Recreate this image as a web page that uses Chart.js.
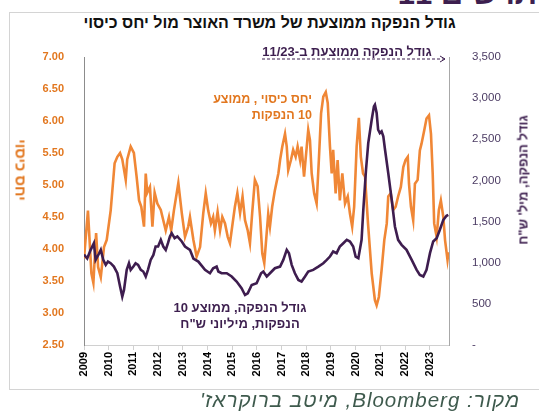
<!DOCTYPE html>
<html lang="he">
<head>
<meta charset="utf-8">
<script src="https://cdn.jsdelivr.net/npm/chart.js@4.4.0/dist/chart.umd.min.js"></script>
<style>
  body { margin: 0; width: 539px; height: 414px; overflow: hidden; background: #fff; position: relative;
         font-family: 'Liberation Sans', Arial, 'DejaVu Sans', sans-serif; }
  .abs { position: absolute; white-space: nowrap; }
  #frame { left: 9px; top: 12px; width: 540px; height: 376px; border: 1px solid #d4d4d4; }
  #header { right: 2px; top: -22px; font-size: 31px; line-height: 31px; font-weight: bold; color: #3d1f4f; direction: rtl; }
  #title { left: 0; width: 539px; top: 14px; text-align: center; font-size: 16px; font-weight: bold; color: #111; direction: rtl; }
  #source { right: 19px; top: 388px; font-size: 20.5px; letter-spacing: 1px; font-style: italic; color: #3e5a4d; direction: rtl; }
  #wrap { position: absolute; left: 0; top: 0; width: 539px; height: 414px; }
  .ytitle { font-weight: bold; direction: rtl; transform-origin: center center; }
  #ltitle { color: #e2771f; font-size: 15px; left: 21px; top: 170px; transform: translate(-50%, -50%) rotate(90deg); }
  #rtitle { color: #3d1f4f; font-size: 13px; left: 523px; top: 180px; transform: translate(-50%, -50%) rotate(-90deg); }
  .lab { font-weight: bold; direction: rtl; line-height: 16px; }
  #olab { color: #e2771f; font-size: 12.5px; right: 227px; top: 91px; text-align: right; }
  #plab { color: #3d1f4f; font-size: 13px; left: 150px; width: 180px; top: 300px; text-align: center; }
  #note { color: #3d1f4f; left: 262px; width: 170px; top: 44px; text-align: center; font-size: 13px; font-weight: bold; direction: rtl; }
</style>
</head>
<body>
<div id="frame" class="abs"></div>
<div id="header" class="abs">תרשים 11</div>
<div id="title" class="abs">גודל הנפקה ממוצעת של משרד האוצר מול יחס כיסוי</div>
<div id="wrap"><canvas id="chart"></canvas></div>
<div id="ltitle" class="abs ytitle">יחס כיסוי</div>
<div id="rtitle" class="abs ytitle">גודל הנפקה, מיל' ש"ח</div>
<div id="olab" class="abs lab">יחס כיסוי , ממוצע<br>10 הנפקות</div>
<div id="plab" class="abs lab">גודל הנפקה, ממוצע 10<br>הנפקות, מיליוני ש"ח</div>
<div id="note" class="abs">גודל הנפקה ממוצעת ב-11/23</div>
<div id="source" class="abs">מקור: Bloomberg, מיטב ברוקראז'</div>

<script>
// יחס כיסוי, ממוצע 10 הנפקות (ציר שמאלי)
var ratioDates = [2009.00,2009.16,2009.30,2009.38,2009.49,2009.57,2009.68,2009.81,2009.92,
  2010.08,2010.24,2010.35,2010.46,2010.55,2010.69,2010.75,2010.89,
  2011.02,2011.13,2011.23,2011.32,2011.43,2011.50,2011.56,2011.67,2011.77,2011.86,2011.97,
  2012.11,2012.21,2012.31,2012.44,2012.53,2012.64,2012.82,2012.96,
  2013.09,2013.22,2013.29,2013.43,2013.56,2013.70,2013.83,2013.93,
  2014.03,2014.14,2014.23,2014.30,2014.41,2014.51,2014.60,2014.71,2014.82,2014.91,
  2015.00,2015.11,2015.21,2015.32,2015.42,2015.52,2015.63,2015.72,2015.81,2015.92,
  2016.03,2016.13,2016.22,2016.30,2016.46,2016.53,2016.62,2016.73,2016.87,2016.94,
  2017.03,2017.14,2017.21,2017.27,2017.38,2017.47,2017.57,2017.65,2017.75,2017.81,2017.91,
  2018.02,2018.08,2018.15,2018.22,2018.32,2018.42,2018.51,2018.60,2018.69,2018.79,2018.87,2018.96,
  2019.03,2019.09,2019.19,2019.27,2019.36,2019.46,2019.57,2019.68,2019.77,2019.86,2019.94,
  2020.04,2020.13,2020.21,2020.30,2020.38,2020.50,2020.65,2020.78,2020.85,2020.94,
  2021.05,2021.16,2021.26,2021.32,2021.42,2021.52,2021.62,2021.72,2021.83,2021.93,
  2022.02,2022.11,2022.16,2022.24,2022.33,2022.40,2022.51,2022.60,2022.67,2022.78,2022.87,2022.97,
  2023.05,2023.12,2023.18,2023.28,2023.37,2023.45,2023.55,2023.62,2023.72,2023.76];
var ratioValues = [3.85,4.60,3.62,3.47,4.25,3.72,3.56,4.03,4.14,
  4.60,5.34,5.44,5.50,5.40,5.08,5.40,5.60,
  5.50,5.13,4.76,4.66,4.35,5.18,4.88,4.97,4.35,4.88,4.71,
  4.61,4.45,4.29,4.50,4.29,4.60,5.03,4.56,
  4.19,4.35,4.50,4.14,3.88,4.03,4.56,4.87,
  4.60,4.40,4.50,4.29,4.58,4.29,4.50,4.40,4.19,4.09,
  4.35,4.66,4.87,4.56,4.82,4.45,4.29,4.09,4.56,5.08,
  4.98,4.50,3.93,3.78,4.55,4.35,4.66,4.92,5.18,5.39,
  5.60,5.80,5.60,5.23,5.39,5.55,5.44,5.60,5.39,5.60,5.13,
  5.60,5.86,5.70,5.18,4.87,4.71,5.39,6.12,6.38,6.45,6.28,5.60,
  5.18,5.55,4.87,5.39,4.76,5.18,4.71,4.82,4.55,4.35,4.66,
  5.60,6.05,5.44,5.18,5.13,4.40,3.62,3.20,3.12,3.25,
  3.67,4.14,4.40,4.82,4.87,4.61,4.66,4.82,4.97,5.28,
  5.39,5.44,5.02,4.66,4.45,5.02,5.08,5.54,5.65,5.86,6.04,6.09,
  5.80,5.18,4.40,4.19,4.61,4.76,4.50,4.14,3.83,3.95];

// גודל הנפקה, ממוצע 10 הנפקות, מיליוני ש"ח (ציר ימני)
var sizeDates = [2009.00,2009.13,2009.27,2009.40,2009.47,2009.61,2009.68,2009.78,2009.88,2009.97,
  2010.08,2010.21,2010.35,2010.46,2010.55,2010.62,2010.73,2010.82,2010.89,
  2011.00,2011.09,2011.19,2011.30,2011.40,2011.50,2011.59,2011.70,2011.81,2011.90,
  2012.00,2012.11,2012.21,2012.31,2012.40,2012.48,2012.55,2012.67,2012.78,2012.96,
  2013.09,2013.29,2013.43,2013.63,2013.90,
  2014.10,2014.23,2014.37,2014.44,2014.57,2014.78,2014.98,
  2015.18,2015.38,2015.52,2015.63,2015.79,2015.99,
  2016.17,2016.26,2016.40,2016.53,2016.73,2016.94,
  2017.07,2017.21,2017.30,2017.41,2017.54,2017.68,2017.81,2017.95,
  2018.08,2018.28,2018.49,2018.69,2018.83,2018.96,
  2019.09,2019.23,2019.36,2019.50,2019.64,2019.77,2019.90,
  2020.00,2020.11,2020.24,2020.31,2020.42,2020.51,2020.65,2020.74,2020.78,2020.85,2020.91,2020.98,
  2021.05,2021.12,2021.19,2021.32,2021.46,2021.59,2021.72,2021.86,
  2022.06,2022.27,2022.47,2022.60,2022.74,2022.87,
  2023.01,2023.14,2023.28,2023.41,2023.55,2023.68,2023.75];
var sizeValues = [1100,1051,1156,1237,1034,1112,1156,1034,974,1014,
  994,953,872,710,588,669,913,994,913,
  953,994,974,913,893,832,913,1034,1095,1197,
  1197,1278,1197,1156,1237,1319,1359,1298,1319,1258,
  1197,1156,1051,1014,913,
  872,933,953,893,872,872,832,
  771,690,608,629,730,751,
  872,893,832,872,933,953,
  1034,1156,1116,974,872,791,771,832,
  892,913,953,994,1034,1075,
  1136,1116,1197,1237,1278,1258,1197,
  1075,1055,1278,1643,2130,2454,2738,2900,2920,2819,2616,2576,
  2596,2535,2373,2089,1765,1440,1278,1217,
  1156,1034,913,852,832,913,
  1116,1258,1298,1400,1521,1570,1582];

var yearTicks = [2009,2010,2011,2012,2013,2014,2015,2016,2017,2018,2019,2020,2021,2022,2023];

function toPoints(xs, ys) {
  return xs.map(function(x, i) { return { x: x, y: ys[i] }; });
}

// חץ מקווקו מעל הגרף
var notePlugin = {
  id: 'noteArrow',
  afterDraw: function(chart) {
    var ctx = chart.ctx, a = chart.chartArea;
    var y = a.top + 2, x0 = a.left + 178, x1 = a.right - 4;
    ctx.save();
    ctx.strokeStyle = '#3d1f4f';
    ctx.lineWidth = 1;
    ctx.setLineDash([3, 2]);
    ctx.beginPath(); ctx.moveTo(x0, y); ctx.lineTo(x1, y); ctx.stroke();
    ctx.setLineDash([]);
    ctx.beginPath(); ctx.moveTo(x1 - 5, y - 3); ctx.lineTo(x1, y); ctx.lineTo(x1 - 5, y + 3); ctx.stroke();
    ctx.restore();
  }
};

var ctx = document.getElementById('chart').getContext('2d');
var chart = new Chart(ctx, {
  type: 'line',
  data: {
    datasets: [{
      label: 'גודל הנפקה',
      data: toPoints(sizeDates, sizeValues),
      yAxisID: 'yR',
      borderColor: '#3e1d4f',
      borderWidth: 2.6,
      pointRadius: 0,
      tension: 0
    }, {
      label: 'יחס כיסוי',
      data: toPoints(ratioDates, ratioValues),
      yAxisID: 'yL',
      borderColor: '#f08736',
      borderWidth: 2.6,
      pointRadius: 0,
      tension: 0
    }]
  },
  options: {
    responsive: true,
    maintainAspectRatio: false,
    animation: false,
    layout: { padding: { top: 57, left: 0, right: 0, bottom: 0 } },
    plugins: { legend: { display: false }, tooltip: { enabled: false } },
    scales: {
      x: {
        type: 'linear',
        min: 2009,
        max: 2023.78,
        afterBuildTicks: function(scale) {
          scale.ticks = yearTicks.map(function(v) { return { value: v }; });
        },
        afterFit: function(scale) { scale.height = 69; },
        grid: { drawOnChartArea: false, drawTicks: true, tickLength: 5, color: '#d0d0d0' },
        border: { color: '#d0d0d0' },
        ticks: {
          autoSkip: false, minRotation: 90, maxRotation: 90, padding: 2,
          color: '#000', font: { family: "'Liberation Sans', Arial, sans-serif", size: 11, weight: 'bold' },
          callback: function(v) { return String(v); }
        }
      },
      yL: {
        position: 'left',
        min: 2.5, max: 7,
        afterFit: function(scale) { scale.width = 84; },
        grid: { display: false },
        border: { color: '#8c8c8c' },
        ticks: {
          stepSize: 0.5, padding: 12,
          color: '#e2771f', font: { family: "'Liberation Sans', Arial, sans-serif", size: 11, weight: 'bold' },
          callback: function(v) { return v.toFixed(2); }
        }
      },
      yR: {
        position: 'right',
        min: 0, max: 3500,
        afterFit: function(scale) { scale.width = 90; },
        grid: { display: false },
        border: { color: '#a8a8a8' },
        ticks: {
          stepSize: 500, padding: 15,
          color: '#4b3b63', font: { family: "'Liberation Sans', Arial, sans-serif", size: 11.5 },
          callback: function(v) { return v === 0 ? '-' : v.toLocaleString('en-US'); }
        }
      }
    }
  },
  plugins: [notePlugin]
});
</script>
</body>
</html>
